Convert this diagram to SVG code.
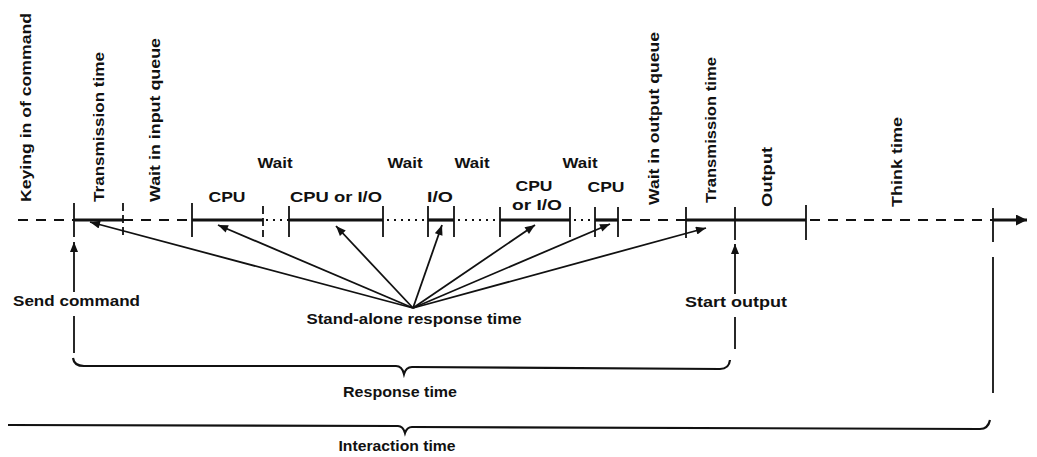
<svg xmlns="http://www.w3.org/2000/svg" width="1037" height="457" viewBox="0 0 1037 457">
<defs>
<style>
text{font-family:"Liberation Sans",Arial,sans-serif;font-weight:bold;fill:#111}
.v{font-size:15.5px}
.h{font-size:15px}
.c{text-anchor:middle}
.thick{stroke:#111;stroke-width:3.2;fill:none}
.dash{stroke:#111;stroke-width:2;stroke-dasharray:10 8;fill:none}
.dot{stroke:#111;stroke-width:2.2;stroke-dasharray:2 5;fill:none}
.tick{stroke:#111;stroke-width:1.8;fill:none}
.tickd{stroke:#111;stroke-width:1.8;stroke-dasharray:8 4;fill:none}
.ln{stroke:#111;stroke-width:1.8;fill:none}
.brace{stroke:#111;stroke-width:2.2;fill:none}
</style>
<marker id="ah" viewBox="0 0 10 8" refX="10" refY="4" markerWidth="11" markerHeight="8" markerUnits="userSpaceOnUse" orient="auto">
<path d="M0,0 L10,4 L0,8 Z" fill="#111"/>
</marker>
<marker id="ahe" viewBox="0 0 10 10" refX="10" refY="5" markerWidth="11" markerHeight="11" markerUnits="userSpaceOnUse" orient="auto">
<path d="M0,0 L10,5 L0,10 Z" fill="#111"/>
</marker>
</defs>
<rect width="1037" height="457" fill="#fff"/>

<g id="timeline">
<path class="dash" d="M18,220 H74"/>
<path class="thick" d="M74,220 H123"/>
<path class="dash" d="M123,220 H192"/>
<path class="thick" d="M192,220 H263"/>
<path class="dot" d="M266,220 H289"/>
<path class="thick" d="M289,220 H383"/>
<path class="dot" d="M387,220 H428"/>
<path class="thick" d="M428,220 H454"/>
<path class="dot" d="M458,220 H500"/>
<path class="thick" d="M500,220 H570"/>
<path class="dot" d="M574,220 H595"/>
<path class="thick" d="M595,220 H618"/>
<path class="dash" d="M622,220 H686"/>
<path class="thick" d="M686,220 H806"/>
<path class="dash" d="M810,220 H993"/>
<path class="thick" d="M993,220 H1027" marker-end="url(#ahe)"/>
<path class="tick" d="M74,203 V237"/>
<path class="tickd" d="M123,203 V236"/>
<path class="tick" d="M192,203 V237"/>
<path class="tickd" d="M263,206 V237"/>
<path class="tick" d="M289,206 V237"/>
<path class="tick" d="M383,206 V237"/>
<path class="tick" d="M428,206 V237"/>
<path class="tick" d="M454,206 V237"/>
<path class="tick" d="M500,207 V237"/>
<path class="tick" d="M570,207 V237"/>
<path class="tick" d="M595,207 V237"/>
<path class="tick" d="M618,207 V237"/>
<path class="tick" d="M686,207 V238"/>
<path class="tick" d="M735,207 V240"/>
<path class="tick" d="M806,205 V240"/>
<path class="tick" d="M993,208 V242"/>
</g>

<g id="labels-top">
<text class="v" transform="translate(31,202) rotate(-90)" textLength="189" lengthAdjust="spacingAndGlyphs">Keying in of command</text>
<text class="v" transform="translate(104,202) rotate(-90)" textLength="150" lengthAdjust="spacingAndGlyphs">Transmission time</text>
<text class="v" transform="translate(160,202) rotate(-90)" textLength="164" lengthAdjust="spacingAndGlyphs">Wait in input queue</text>
<text class="v" transform="translate(659,205) rotate(-90)" textLength="173" lengthAdjust="spacingAndGlyphs">Wait in output queue</text>
<text class="v" transform="translate(716,203) rotate(-90)" textLength="146" lengthAdjust="spacingAndGlyphs">Transmission time</text>
<text class="v" transform="translate(772,207) rotate(-90)" textLength="60" lengthAdjust="spacingAndGlyphs">Output</text>
<text class="v" transform="translate(902,207) rotate(-90)" textLength="90" lengthAdjust="spacingAndGlyphs">Think time</text>
<text class="h c" x="275" y="168" textLength="35" lengthAdjust="spacingAndGlyphs">Wait</text>
<text class="h c" x="405" y="168" textLength="35" lengthAdjust="spacingAndGlyphs">Wait</text>
<text class="h c" x="472" y="168" textLength="35" lengthAdjust="spacingAndGlyphs">Wait</text>
<text class="h c" x="580" y="168" textLength="35" lengthAdjust="spacingAndGlyphs">Wait</text>
<text class="h c" x="227" y="202" textLength="37" lengthAdjust="spacingAndGlyphs">CPU</text>
<text class="h c" x="336" y="202" textLength="92" lengthAdjust="spacingAndGlyphs">CPU or I/O</text>
<text class="h c" x="440" y="202" textLength="26" lengthAdjust="spacingAndGlyphs">I/O</text>
<text class="h c" x="534" y="191" textLength="37" lengthAdjust="spacingAndGlyphs">CPU</text>
<text class="h c" x="537" y="210" textLength="50" lengthAdjust="spacingAndGlyphs">or I/O</text>
<text class="h c" x="606" y="192" textLength="37" lengthAdjust="spacingAndGlyphs">CPU</text>
</g>

<g id="send-command">
<path class="ln" d="M74,292 V242" marker-end="url(#ah)"/>
<text class="h" x="13" y="306" textLength="127" lengthAdjust="spacingAndGlyphs">Send command</text>
<path class="ln" d="M74,316 V353"/>
</g>

<g id="start-output">
<path class="ln" d="M735,294 V244" marker-end="url(#ah)"/>
<text class="h" x="685" y="307" textLength="102" lengthAdjust="spacingAndGlyphs">Start output</text>
<path class="ln" d="M735,317 V349"/>
</g>

<g id="think-end">
<path class="ln" d="M993,257 V393"/>
</g>

<g id="standalone">
<text class="h c" x="414" y="324" textLength="215" lengthAdjust="spacingAndGlyphs">Stand-alone response time</text>
</g>

<g id="connectors">
<path class="ln" d="M413,308 L90,222" marker-end="url(#ah)"/>
<path class="ln" d="M413,308 L218,225" marker-end="url(#ah)"/>
<path class="ln" d="M413,308 L336,226" marker-end="url(#ah)"/>
<path class="ln" d="M413,308 L442,225" marker-end="url(#ah)"/>
<path class="ln" d="M413,308 L535,225" marker-end="url(#ah)"/>
<path class="ln" d="M413,308 L610,224" marker-end="url(#ah)"/>
<path class="ln" d="M413,308 L706,228" marker-end="url(#ah)"/>
</g>

<g id="response-time">
<path class="brace" d="M73,358 Q74,366 84,366 L396,366 Q402,366 404,374 Q406,367 412,367 L720,369 Q729,369 730,360"/>
<text class="h c" x="400" y="397" textLength="114" lengthAdjust="spacingAndGlyphs">Response time</text>
</g>

<g id="interaction-time">
<path class="brace" d="M8,425 L398,426 Q403,426 405,433 Q407,427 412,427 L980,429 Q988,429 990,420"/>
<text class="h c" x="397" y="451" textLength="117" lengthAdjust="spacingAndGlyphs">Interaction time</text>
</g>
</svg>
